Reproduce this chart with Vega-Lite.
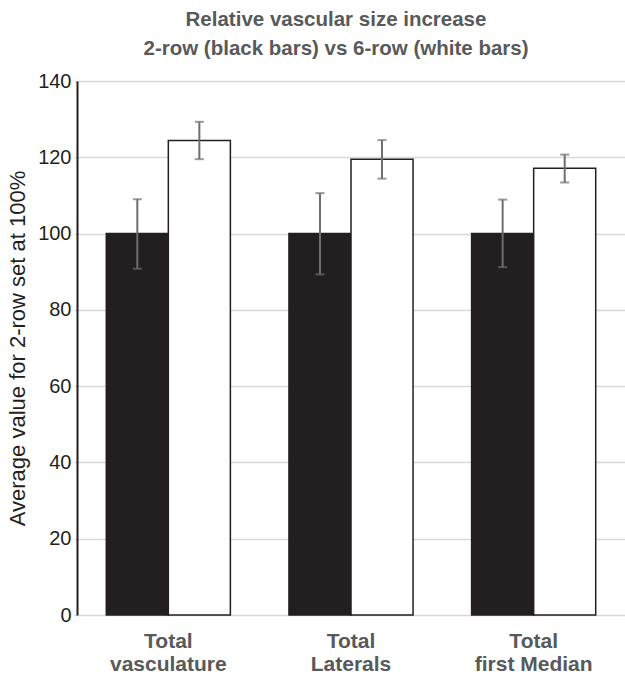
{
  "$schema": "https://vega.github.io/schema/vega-lite/v6.json",
  "width": 548,
  "height": 534,
  "autosize": "none",
  "padding": {"left": 77, "top": 81, "right": 0, "bottom": 61},
  "title": {
    "text": ["Relative vascular size increase", "2-row (black bars) vs 6-row (white bars)"],
    "font": "Liberation Sans",
    "fontSize": 20.5,
    "fontWeight": "bold",
    "color": "#58595b",
    "lineHeight": 29,
    "anchor": "middle",
    "dx": -15,
    "offset": 12
  },
  "data": {
    "values": [
      {"category": "Total vasculature", "series": "2-row", "value": 100, "lo": 90.8, "hi": 109.0},
      {"category": "Total vasculature", "series": "6-row", "value": 124.4, "lo": 119.5, "hi": 129.3},
      {"category": "Total Laterals", "series": "2-row", "value": 100, "lo": 89.3, "hi": 110.6},
      {"category": "Total Laterals", "series": "6-row", "value": 119.5, "lo": 114.4, "hi": 124.5},
      {"category": "Total first Median", "series": "2-row", "value": 100, "lo": 91.2, "hi": 108.9},
      {"category": "Total first Median", "series": "6-row", "value": 117.1, "lo": 113.4, "hi": 120.7}
    ]
  },
  "encoding": {
    "x": {
      "field": "category",
      "type": "nominal",
      "sort": null,
      "scale": {"paddingInner": 0, "paddingOuter": 0},
      "axis": {
        "title": null,
        "domain": false,
        "ticks": false,
        "grid": false,
        "labelAngle": 0,
        "labelFont": "Liberation Sans",
        "labelFontSize": 21,
        "labelFontWeight": "bold",
        "labelColor": "#58595b",
        "labelPadding": 15,
        "labelLineHeight": 23.5,
        "labelExpr": "[slice(datum.label, 0, 5), slice(datum.label, 6)]"
      }
    },
    "xOffset": {
      "field": "series",
      "type": "nominal",
      "sort": ["2-row", "6-row"],
      "scale": {"paddingInner": 0, "paddingOuter": 0.472}
    }
  },
  "layer": [
    {
      "mark": {"type": "bar", "stroke": "#231f20", "strokeWidth": 1.5},
      "encoding": {
        "y": {
          "field": "value",
          "type": "quantitative",
          "scale": {"domain": [0, 140], "nice": false},
          "axis": {
            "values": [0, 20, 40, 60, 80, 100, 120, 140],
            "title": "Average value for 2-row set at 100%",
            "titleFont": "Liberation Sans",
            "titleFontSize": 22,
            "titleFontWeight": "normal",
            "titleColor": "#231f20",
            "titlePadding": 8,
            "labelFont": "Liberation Sans",
            "labelFontSize": 20,
            "labelColor": "#231f20",
            "labelPadding": 3,
            "grid": true,
            "gridColor": "#d9d9d9",
            "gridWidth": 1.5,
            "domain": true,
            "domainColor": "#231f20",
            "domainWidth": 2,
            "tickSize": 3,
            "tickColor": "#d9d9d9",
            "tickWidth": 1.5
          }
        },
        "fill": {
          "field": "series",
          "type": "nominal",
          "scale": {"domain": ["2-row", "6-row"], "range": ["#231f20", "#ffffff"]},
          "legend": null
        }
      }
    },
    {
      "mark": {"type": "rule", "color": "#6d6e71", "strokeWidth": 2},
      "encoding": {
        "y": {"field": "lo", "type": "quantitative"},
        "y2": {"field": "hi"}
      }
    },
    {
      "mark": {"type": "tick", "color": "#6d6e71", "thickness": 2, "size": 9},
      "encoding": {
        "y": {"field": "lo", "type": "quantitative"}
      }
    },
    {
      "mark": {"type": "tick", "color": "#6d6e71", "thickness": 2, "size": 9},
      "encoding": {
        "y": {"field": "hi", "type": "quantitative"}
      }
    }
  ],
  "config": {"view": {"stroke": null}}
}
